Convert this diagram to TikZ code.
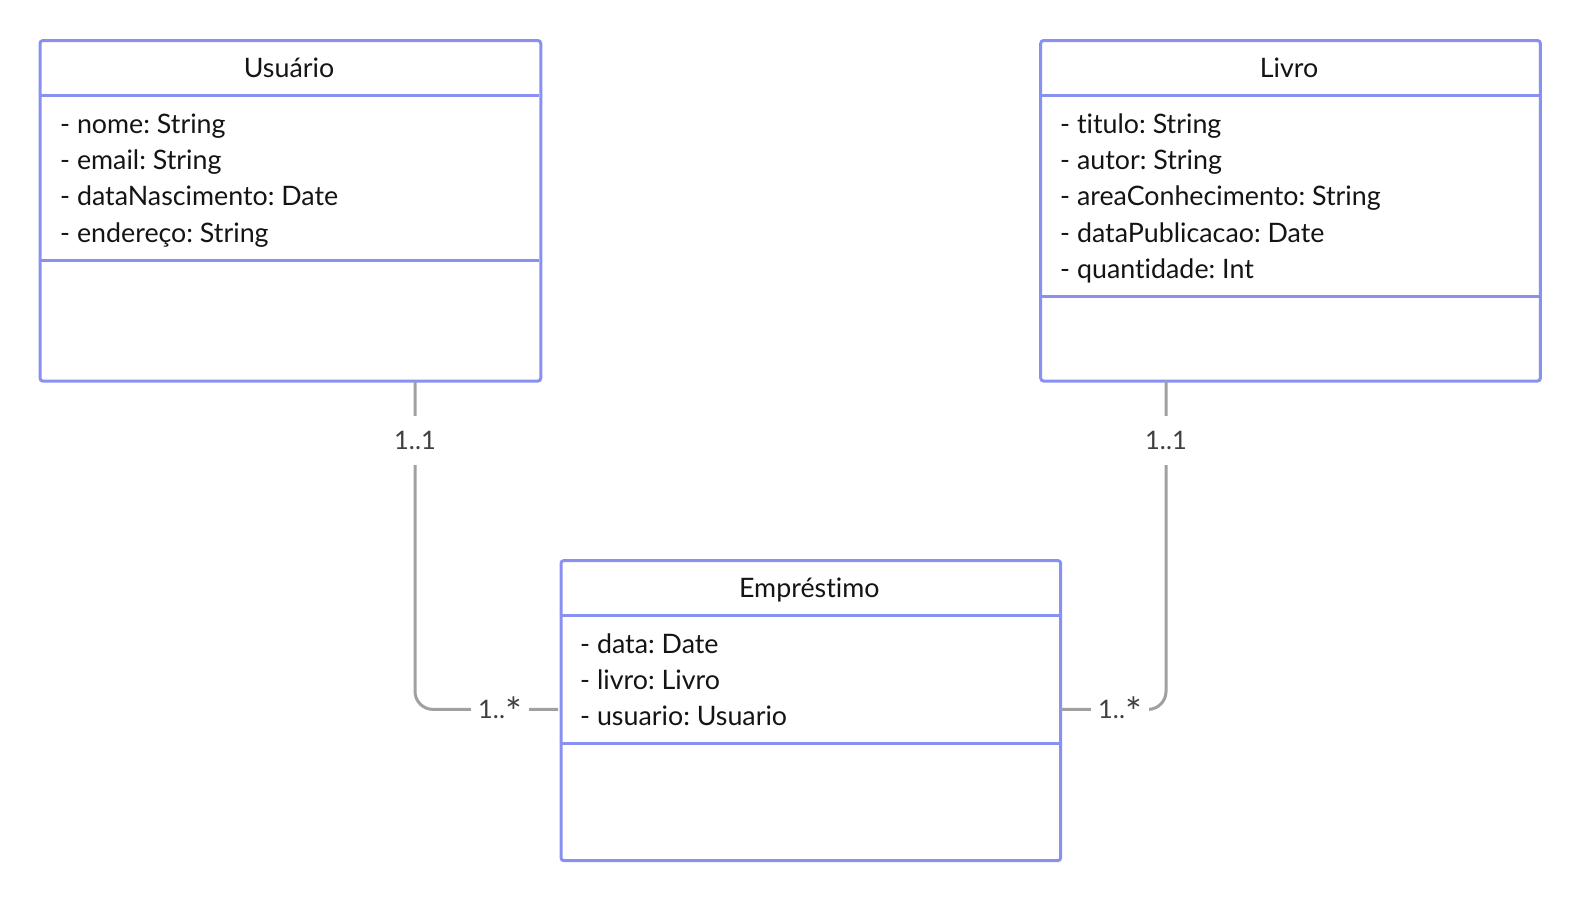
\documentclass[tikz,border=0pt]{standalone}
\usepackage{fontspec}
\usepackage{graphicx}
\setmainfont{Lato}[Ligatures=NoCommon]
\frenchspacing
\newcommand{\bigast}{\raisebox{-0.3em}{\scalebox{1.55}{*}}}
\begin{document}
\begin{tikzpicture}[x=1pt,y=-1pt,
  classbox/.style={draw=umlblue, line width=3pt, rounded corners=3pt, inner sep=0pt, anchor=north west},
  sepline/.style={draw=umlblue, line width=3pt},
  attr/.style={anchor=base west, inner sep=0pt, text=black!92, font=\fontsize{26.8}{30}\selectfont},
  title/.style={anchor=base, inner sep=0pt, text=black!92, font=\fontsize{26.8}{30}\selectfont},
  conn/.style={draw=conngray, line width=3pt, rounded corners=18pt},
  mult/.style={fill=white, text=black!75, text height=18pt, text depth=0pt, inner xsep=7pt, inner ysep=15.5pt, font=\fontsize{25.5}{30}\selectfont}]
\definecolor{umlblue}{RGB}{136,144,240}
\definecolor{conngray}{RGB}{160,160,160}
\useasboundingbox (0,0) rectangle (1580,900);

% Usuario
\node[classbox, minimum width=500.8pt, minimum height=340.6pt] (usu) at (38.5,39) {};
\draw[sepline] (38.5,95.7) -- (539.3,95.7);
\draw[sepline] (38.5,260) -- (539.3,260);
\node[title] (usuT) at (289,77.5) {Usuário};
\node[attr] (usuA1) at (60,133.3) {- nome: String};
\node[attr] (usuA2) at (60,169.6) {- email: String};
\node[attr] (usuA3) at (60,205.9) {- dataNascimento: Date};
\node[attr] (usuA4) at (60,242.2) {- endereço: String};

% Livro
\node[classbox, minimum width=499.7pt, minimum height=340.6pt] (liv) at (1039.2,39) {};
\draw[sepline] (1039.2,95.7) -- (1538.9,95.7);
\draw[sepline] (1039.2,296.3) -- (1538.9,296.3);
\node[title] (livT) at (1289,77.5) {Livro};
\node[attr] (livA1) at (1060,133.3) {- titulo: String};
\node[attr] (livA2) at (1060,169.6) {- autor: String};
\node[attr] (livA3) at (1060,205.9) {- areaConhecimento: String};
\node[attr] (livA4) at (1060,242.2) {- dataPublicacao: Date};
\node[attr] (livA5) at (1060,278.5) {- quantidade: Int};

% Emprestimo
\node[classbox, minimum width=499.7pt, minimum height=300.2pt] (emp) at (559.5,559) {};
\draw[sepline] (559.5,615.7) -- (1059.2,615.7);
\draw[sepline] (559.5,743.7) -- (1059.2,743.7);
\node[title] (empT) at (809.3,597.5) {Empréstimo};
\node[attr] (empA1) at (580,653.3) {- data: Date};
\node[attr] (empA2) at (580,689.6) {- livro: Livro};
\node[attr] (empA3) at (580,725.9) {- usuario: Usuario};

% connectors
\coordinate (uc) at (415,381);
\coordinate (ue) at (558,709.4);
\coordinate (lc) at (1166,381);
\coordinate (le) at (1060.7,709.4);
\draw[conn] (uc) |- (ue);
\draw[conn] (lc) |- (le);
\node[mult] (m1) at (415,440.4) {1..1};
\node[mult] (m2) at (500,709.4) {1..\bigast};
\node[mult] (m3) at (1166,440.4) {1..1};
\node[mult] (m4) at (1120,709.4) {1..\bigast};
\end{tikzpicture}
\end{document}
